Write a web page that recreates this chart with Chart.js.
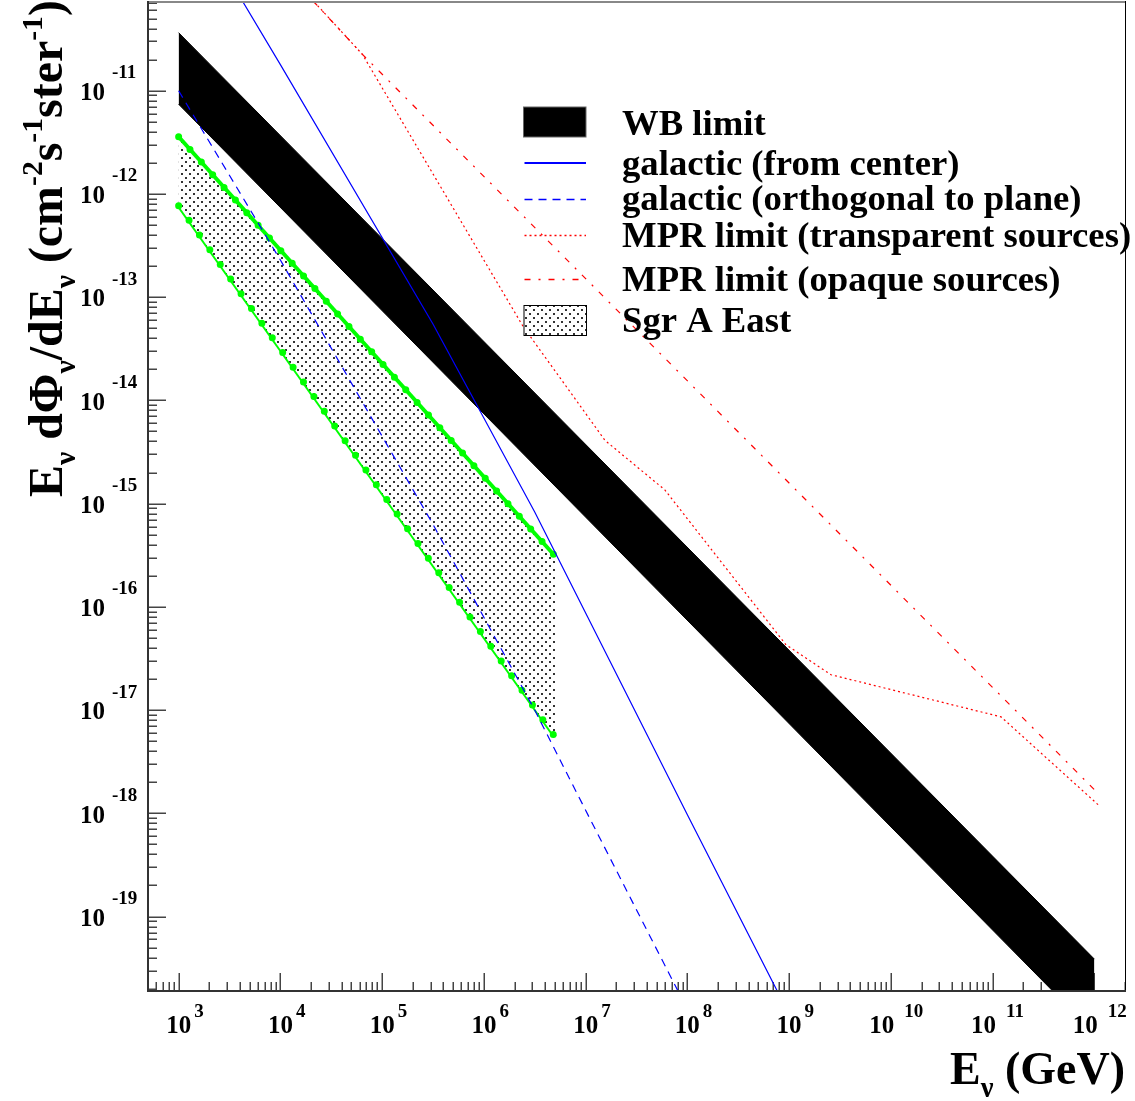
<!DOCTYPE html>
<html><head><meta charset="utf-8">
<script src="https://cdn.jsdelivr.net/npm/chart.js@4.4.1/dist/chart.umd.min.js"></script>
<style>html,body{margin:0;padding:0;background:#fff;} #wrap{width:1135px;height:1101px;position:relative;}</style>
</head><body><div id="wrap"><canvas id="c"></canvas></div>
<script>
// ---- data ----
const wbEnergy = [1e3, 1e12];
const wbUpper = [3.65e-11, 3.87e-20];
const wbLower = [7.4e-12, 7.4e-21];
const galCenterEnergy = [3.16e3, 1e4, 3.16e5, 3.16e6, 1e8, 1e9];
const galCenterFlux = [1.2e-10, 1.79e-11, 5.5e-14, 8.3e-16, 9.7e-19, 1.13e-20];
const galOrthEnergy = [1e3, 1e4, 3.16e5, 3.16e6, 1e7, 1e8];
const galOrthFlux = [1e-11, 2.29e-13, 6.3e-16, 1.0e-17, 1.07e-18, 1.26e-20];
const mprTransEnergy = [1e4, 6.4e4, 2.43e6, 1.55e7, 6.0e7, 9.3e8, 2.58e9, 1.21e11, 1.09e12];
const mprTransFlux = [1.65e-10, 2.25e-11, 5.2e-14, 4.1e-15, 1.36e-15, 4.3e-17, 2.2e-17, 8.6e-18, 1.21e-18];
const mprOpaqEnergy = [1e4, 6.4e4, 1.08e12];
const mprOpaqFlux = [1.63e-10, 2.25e-11, 1.57e-18];
const sgrEnergy = [1e3, 5e6];
const sgrUpper = [3.58e-12, 3.11e-16];
const sgrLower = [7.7e-13, 5.5e-18];
const xRange = [500, 2e12];
const yRange = [1.9e-20, 7.4e-11];
const xTickExponents = [3, 4, 5, 6, 7, 8, 9, 10, 11, 12];
const yTickExponents = [-19, -18, -17, -16, -15, -14, -13, -12, -11];
const legendLabels = ['WB limit', 'galactic (from center)', 'galactic (orthogonal to plane)',
  'MPR limit (transparent sources)', 'MPR limit (opaque sources)', 'Sgr A East'];
const yTitle = [['E','n'],['ν','sub'],[' dΦ','n'],['ν','sub'],['/dE','n'],['ν','sub'],[' (cm','n'],['-2','sup'],['s','n'],['-1','sup'],['ster','n'],['-1','sup'],[')','n']];
const xTitle = [['E','n'],['ν','sub'],[' (GeV)','n']];

const FONT = '"Liberation Serif", "Times New Roman", serif';
const BLUE = '#0000ff', RED = '#ff0000', GREEN = '#00ff00';

const canvas = document.getElementById('c');
const ctx0 = canvas.getContext('2d');
function makePattern() {
  const pc = document.createElement('canvas'); pc.width = 8; pc.height = 8;
  const p = pc.getContext('2d');
  p.fillStyle = '#fff'; p.fillRect(0, 0, 8, 8);
  p.fillStyle = '#999'; p.fillRect(0, 0, 4, 4); p.fillRect(4, 4, 4, 4);
  p.fillStyle = '#fff'; p.fillRect(0, 0, 4, 1); p.fillRect(0, 0, 1, 4); p.fillRect(4, 4, 4, 1); p.fillRect(4, 4, 1, 4);
  p.fillRect(3, 0, 1, 4); p.fillRect(0, 3, 4, 1); p.fillRect(7, 4, 1, 4); p.fillRect(4, 7, 4, 1);
  p.fillStyle = '#333'; p.fillRect(1, 1, 2, 2); p.fillRect(5, 5, 2, 2);
  return ctx0.createPattern(pc, 'repeat');
}
const pattern = makePattern();
const pts = (xs, ys) => xs.map((x, i) => ({ x: x, y: ys[i] }));

function drawRich(ctx, segs, x, y, size, measureOnly) {
  let cx = x;
  for (const [s, t] of segs) {
    const fs = t === 'n' ? size : size * 0.62;
    ctx.font = 'bold ' + fs + 'px ' + FONT;
    const dy = t === 'sub' ? size * 0.28 : (t === 'sup' ? -size * 0.42 : 0);
    if (!measureOnly) ctx.fillText(s, cx, y + dy);
    cx += ctx.measureText(s).width;
  }
  return cx - x;
}

const decor = {
  id: 'decor',
  beforeDatasetsDraw(chart) {
    const ctx = chart.ctx, xs = chart.scales.x, ys = chart.scales.y, a = chart.chartArea;
    ctx.save();
    ctx.strokeStyle = '#444'; ctx.lineWidth = 1.5;
    ctx.beginPath();
    for (let e = Math.floor(Math.log10(xs.min)); e <= Math.ceil(Math.log10(xs.max)); e++) {
      for (let m = 1; m <= 9; m++) {
        const v = m * Math.pow(10, e);
        if (v < xs.min * 0.999 || v > xs.max * 1.001) continue;
        const px = Math.round(xs.getPixelForValue(v)) + 0.25;
        const len = m === 1 ? 18 : 9;
        ctx.moveTo(px, a.bottom); ctx.lineTo(px, a.bottom - len);
      }
    }
    for (let e = Math.floor(Math.log10(ys.min)); e <= Math.ceil(Math.log10(ys.max)); e++) {
      for (let m = 1; m <= 9; m++) {
        const v = m * Math.pow(10, e);
        if (v < ys.min * 0.999 || v > ys.max * 1.001) continue;
        const py = Math.round(ys.getPixelForValue(v)) + 0.25;
        const len = m === 1 ? 18 : 9;
        ctx.moveTo(a.left, py); ctx.lineTo(a.left + len, py);
      }
    }
    ctx.stroke();
    ctx.restore();
  },
  afterDatasetsDraw(chart) {
    const ctx = chart.ctx, xs = chart.scales.x, ys = chart.scales.y, a = chart.chartArea;
    ctx.save();
    // frame
    ctx.lineWidth = 2; ctx.strokeStyle = '#888';
    ctx.beginPath(); ctx.moveTo(a.left, a.top + 1); ctx.lineTo(a.right, a.top + 1); ctx.stroke();
    ctx.lineWidth = 1; ctx.strokeStyle = '#000';
    ctx.beginPath(); ctx.moveTo(a.right + 0.5, a.top); ctx.lineTo(a.right + 0.5, a.bottom); ctx.stroke();
    ctx.lineWidth = 2; ctx.strokeStyle = '#333';
    ctx.beginPath(); ctx.moveTo(a.left, a.top); ctx.lineTo(a.left, a.bottom); ctx.lineTo(a.right + 1, a.bottom); ctx.stroke();

    // tick labels
    ctx.fillStyle = '#000'; ctx.textBaseline = 'alphabetic';
    for (const e of yTickExponents) {
      const py = ys.getPixelForValue(Math.pow(10, e));
      ctx.font = 'bold 25px ' + FONT; ctx.textAlign = 'right';
      ctx.fillText('10', 105, py + 9.3);
      ctx.font = 'bold 19px ' + FONT; ctx.textAlign = 'left';
      ctx.fillText(String(e), 112, py - 12.5);
    }
    for (const e of xTickExponents) {
      const px = xs.getPixelForValue(Math.pow(10, e));
      const s = String(e);
      const c = s.length === 1 ? px : px - 9;
      const gap = s.length === 1 ? 3 : 10;
      ctx.font = 'bold 25px ' + FONT; ctx.textAlign = 'center';
      ctx.fillText('10', c, 1033);
      ctx.font = 'bold 19px ' + FONT; ctx.textAlign = 'left';
      ctx.fillText(s, c + 12.5 + gap, 1017);
    }

    // axis titles
    ctx.textAlign = 'left';
    let ySize = 47;
    const w = drawRich(ctx, yTitle, 0, 0, ySize, true);
    ySize = ySize * 497 / w;
    ctx.save(); ctx.translate(62, 497); ctx.rotate(-Math.PI / 2);
    drawRich(ctx, yTitle, 0, 0, ySize, false);
    ctx.restore();
    const xw = drawRich(ctx, xTitle, 0, 0, 46, true);
    drawRich(ctx, xTitle, 1125 - xw, 1084, 46, false);

    // legend
    const sx0 = 523.5, sx1 = 586, tx = 622;
    ctx.fillStyle = '#000'; ctx.fillRect(sx0, 107, sx1 - sx0, 30);
    ctx.strokeStyle = '#666'; ctx.lineWidth = 1; ctx.strokeRect(sx0, 107, sx1 - sx0, 30);
    const lineSym = (y, color, dash, lw) => {
      ctx.save(); ctx.strokeStyle = color; ctx.lineWidth = lw; ctx.setLineDash(dash);
      ctx.beginPath(); ctx.moveTo(sx0 + 1, y); ctx.lineTo(sx1, y); ctx.stroke(); ctx.restore();
    };
    lineSym(163, BLUE, [], 1.8);
    lineSym(199.5, BLUE, [8, 6], 1.5);
    lineSym(235.5, RED, [2, 3], 1.5);
    lineSym(279.5, RED, [6, 8, 2, 8], 1.5);
    ctx.fillStyle = pattern; ctx.fillRect(sx0, 305, sx1 - sx0, 30);
    ctx.strokeStyle = '#000'; ctx.lineWidth = 1; ctx.strokeRect(sx0 + 0.5, 305.5, sx1 - sx0, 30);
    ctx.fillStyle = '#000'; ctx.font = 'bold 36.7px ' + FONT; ctx.textAlign = 'left';
    const baselines = [135, 175, 210, 247, 291, 332];
    legendLabels.forEach((t, i) => ctx.fillText(t, tx, baselines[i]));
    ctx.restore();
  }
};

new Chart(canvas, {
  type: 'line',
  data: {
    datasets: [
      { label: 'WB upper', data: pts(wbEnergy, wbUpper), borderColor: '#000', borderWidth: 1, backgroundColor: '#000', fill: 1, order: 10 },
      { label: 'WB lower', data: pts(wbEnergy, wbLower), borderColor: '#000', borderWidth: 1, fill: false, order: 10 },
      { label: 'Sgr upper', data: pts(sgrEnergy, sgrUpper), borderColor: GREEN, borderWidth: 4, backgroundColor: pattern, fill: 3, order: 8 },
      { label: 'Sgr lower', data: pts(sgrEnergy, sgrLower), borderColor: GREEN, borderWidth: 4, fill: false, order: 8 },
      { label: 'Sgr upper markers', data: pts(sgrEnergy, sgrUpper), borderColor: GREEN, borderWidth: 7, borderDash: [0, 17], borderCapStyle: 'round', fill: false, order: 7 },
      { label: 'Sgr lower markers', data: pts(sgrEnergy, sgrLower), borderColor: GREEN, borderWidth: 7, borderDash: [0, 18], borderCapStyle: 'round', fill: false, order: 7 },
      { label: 'galactic center', data: pts(galCenterEnergy, galCenterFlux), borderColor: BLUE, borderWidth: 1.2, fill: false, order: 5 },
      { label: 'galactic orth', data: pts(galOrthEnergy, galOrthFlux), borderColor: BLUE, borderWidth: 1.2, borderDash: [8, 6], fill: false, order: 5 },
      { label: 'MPR transparent', data: pts(mprTransEnergy, mprTransFlux), borderColor: RED, borderWidth: 1.2, borderDash: [2, 3], fill: false, order: 4 },
      { label: 'MPR opaque', data: pts(mprOpaqEnergy, mprOpaqFlux), borderColor: RED, borderWidth: 1.2, borderDash: [6, 8, 2, 8], fill: false, order: 4 }
    ]
  },
  options: {
    responsive: true, maintainAspectRatio: false, animation: false,
    layout: { padding: { left: 148, right: 10, top: 1, bottom: 110 } },
    elements: { point: { radius: 0, hoverRadius: 0 }, line: { tension: 0 } },
    plugins: { legend: { display: false }, tooltip: { enabled: false } },
    events: [],
    scales: {
      x: { type: 'logarithmic', min: xRange[0], max: xRange[1], display: false },
      y: { type: 'logarithmic', min: yRange[0], max: yRange[1], display: false }
    }
  },
  plugins: [decor]
});
</script></body></html>
